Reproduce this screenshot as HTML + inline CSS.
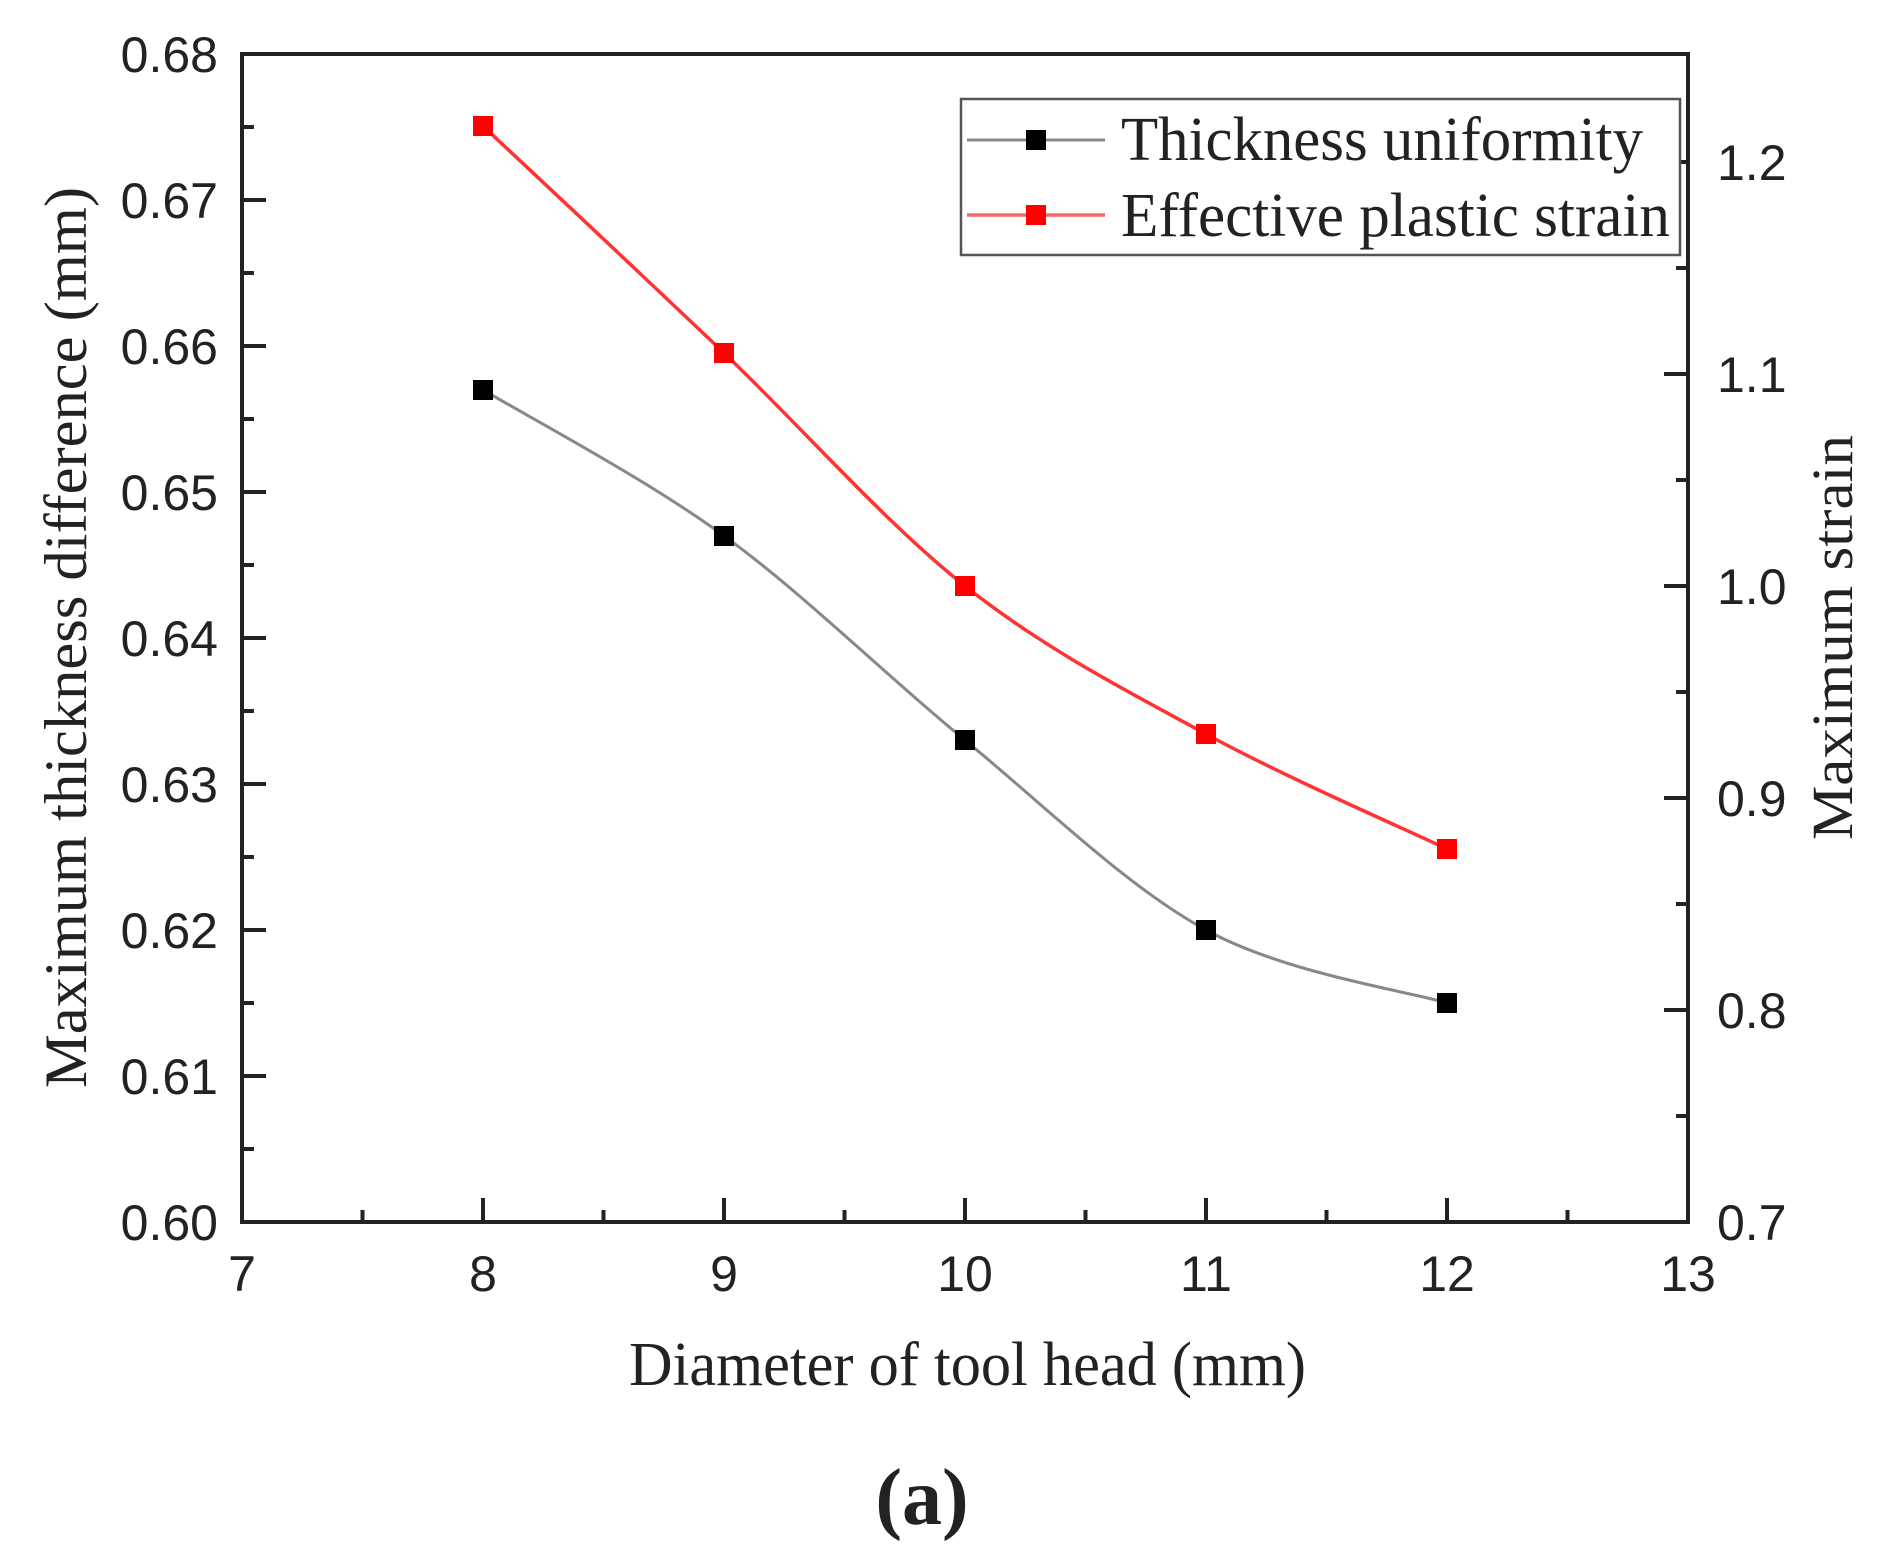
<!DOCTYPE html>
<html><head><meta charset="utf-8"><style>body{margin:0;background:#fff}svg{display:block}</style></head><body>
<svg width="1896" height="1551" viewBox="0 0 1896 1551" xmlns="http://www.w3.org/2000/svg">
<rect width="1896" height="1551" fill="#fff"/>
<g stroke="#222" stroke-width="4" fill="none">
<rect x="242" y="54" width="1446" height="1168"/>
<path d="M483 1222v-24M724 1222v-24M965 1222v-24M1206 1222v-24M1447 1222v-24M362.5 1222v-12M603.5 1222v-12M844.5 1222v-12M1085.5 1222v-12M1326.5 1222v-12M1567.5 1222v-12"/>
<path d="M242 1076h24M242 930h24M242 784h24M242 638h24M242 492h24M242 346h24M242 200h24M242 1149h12M242 1003h12M242 857h12M242 711h12M242 565h12M242 419h12M242 273h12M242 127h12"/>
<path d="M1688 1010h-24M1688 798h-24M1688 586h-24M1688 374h-24M1688 162h-24M1688 1116h-12M1688 904h-12M1688 692h-12M1688 480h-12M1688 268h-12"/>
</g>
<g font-family="Liberation Sans, sans-serif" font-size="50" fill="#222">
<g text-anchor="end">
<text x="218" y="1240">0.60</text><text x="218" y="1094">0.61</text><text x="218" y="948">0.62</text><text x="218" y="802">0.63</text><text x="218" y="656">0.64</text><text x="218" y="510">0.65</text><text x="218" y="364">0.66</text><text x="218" y="218">0.67</text><text x="218" y="72">0.68</text>
</g>
<g text-anchor="middle">
<text x="242" y="1291">7</text><text x="483" y="1291">8</text><text x="724" y="1291">9</text><text x="965" y="1291">10</text><text x="1206" y="1291">11</text><text x="1447" y="1291">12</text><text x="1688" y="1291">13</text>
</g>
<text x="1717" y="1240">0.7</text><text x="1717" y="1028">0.8</text><text x="1717" y="816">0.9</text><text x="1717" y="604">1.0</text><text x="1717" y="392">1.1</text><text x="1717" y="180">1.2</text>
</g>
<g font-family="Liberation Serif, serif" fill="#222">
<text x="629" y="1385" font-size="62" textLength="677" lengthAdjust="spacingAndGlyphs">Diameter of tool head (mm)</text>
<text transform="translate(86 1088) rotate(-90)" font-size="60" textLength="901" lengthAdjust="spacingAndGlyphs">Maximum thickness difference (mm)</text>
<text transform="translate(1852 840) rotate(-90)" font-size="58" textLength="405" lengthAdjust="spacingAndGlyphs">Maximum strain</text>
<text x="922" y="1524" font-size="80" font-weight="bold" text-anchor="middle">(a)</text>
</g>
<path d="M483 389.8C523.2 414.1 643.7 477.4 724 535.8C804.3 594.2 884.7 674.5 965 740.2C1045.3 805.9 1125.7 886.2 1206 930C1286.3 973.8 1407 990.8 1447 1003" stroke="#888" stroke-width="3" fill="none"/>
<path d="M483 126C523.2 163.8 643.7 276.3 724 353C804.3 429.7 884.7 522.5 965 586C1045.3 649.5 1125.7 690.2 1206 734C1286.3 777.8 1407 829.8 1447 849" stroke="#f33" stroke-width="3.5" fill="none"/>
<g fill="#000">
<rect x="473" y="380" width="20" height="20"/><rect x="714" y="526" width="20" height="20"/><rect x="955" y="730" width="20" height="20"/><rect x="1196" y="920" width="20" height="20"/><rect x="1437" y="993" width="20" height="20"/>
</g>
<g fill="#f00">
<rect x="473" y="116" width="20" height="20"/><rect x="714" y="343" width="20" height="20"/><rect x="955" y="576" width="20" height="20"/><rect x="1196" y="724" width="20" height="20"/><rect x="1437" y="839" width="20" height="20"/>
</g>
<rect x="961" y="99" width="719" height="156" fill="#fff" stroke="#555" stroke-width="2.5"/>
<path d="M967 140h138" stroke="#888" stroke-width="3"/>
<rect x="1026" y="130" width="20" height="20" fill="#000"/>
<path d="M967 215h138" stroke="#f66" stroke-width="3.5"/>
<rect x="1026" y="205" width="20" height="20" fill="#f00"/>
<g font-family="Liberation Serif, serif" font-size="62" fill="#222">
<text x="1121" y="160" textLength="522" lengthAdjust="spacingAndGlyphs">Thickness uniformity</text>
<text x="1121" y="236" textLength="549" lengthAdjust="spacingAndGlyphs">Effective plastic strain</text>
</g>
</svg>
</body></html>
